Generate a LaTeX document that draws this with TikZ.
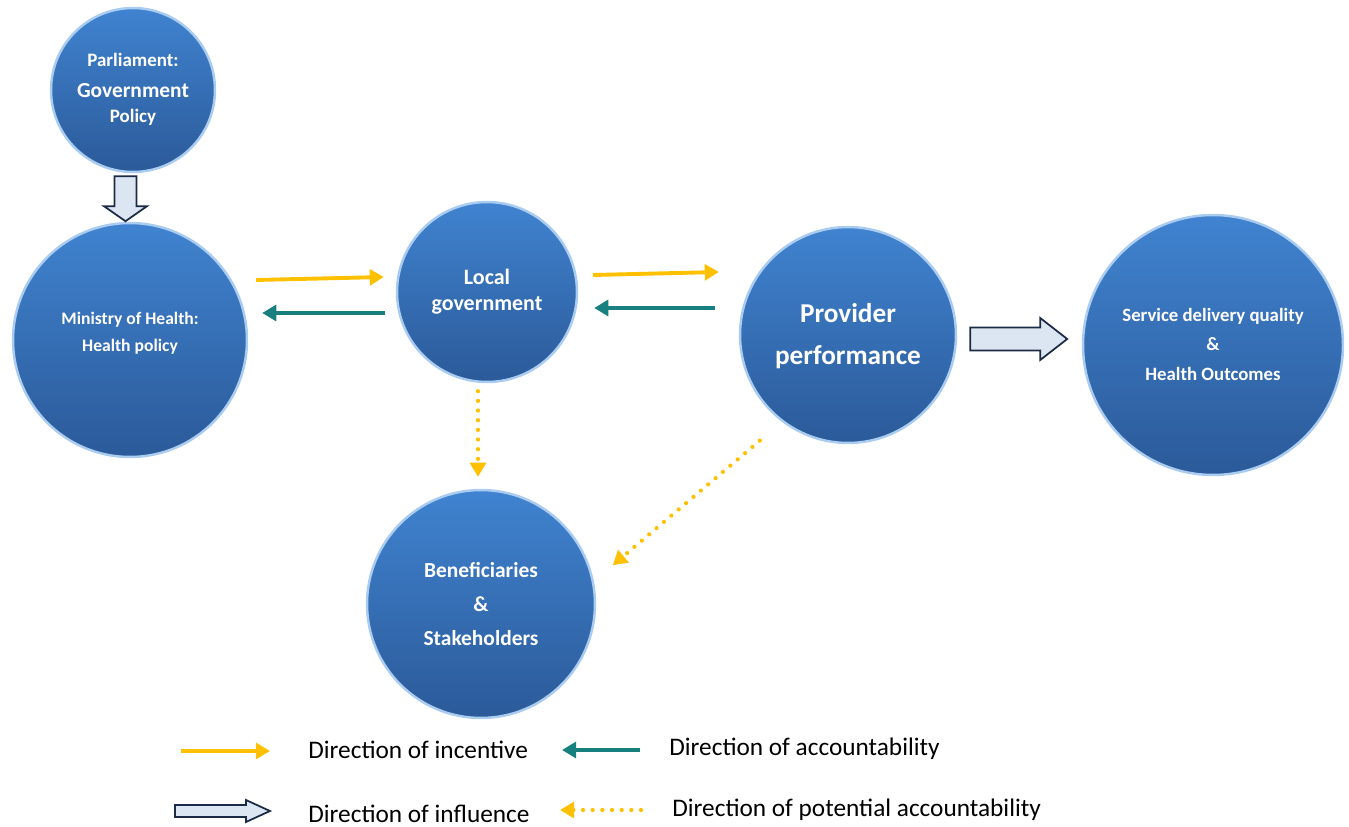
\documentclass[tikz,border=0pt]{standalone}
\usepackage{fontspec}
\setmainfont{Carlito}
\usetikzlibrary{arrows.meta,calc}
\definecolor{ballTop}{HTML}{4083D0}
\definecolor{ballBot}{HTML}{2B5A99}
\definecolor{ballRim}{HTML}{A9CCF0}
\definecolor{incYellow}{HTML}{FFC000}
\definecolor{accTeal}{HTML}{17807E}
\definecolor{inflFill}{HTML}{DCE6F2}
\definecolor{inflDraw}{HTML}{1C2B45}
\tikzset{
  ball/.style={circle, top color=ballTop, bottom color=ballBot, draw=ballRim,
    line width=1.4pt, text=white, align=center, inner sep=0pt},
  incentive/.style={incYellow, line width=2.2pt, -{Triangle[length=8pt,width=9pt]}},
  accountable/.style={accTeal, line width=2.2pt, -{Triangle[length=8pt,width=9pt]}},
  potential/.style={incYellow, line width=2.4pt, line cap=round,
    dash pattern=on 0pt off 5.5pt, -{Triangle[length=8pt,width=9pt]}},
  influence/.style={fill=inflFill, draw=inflDraw, line width=1pt},
  legendtext/.style={anchor=west, font=\fontsize{14.4}{16}\selectfont, inner sep=0pt},
  pics/blockarr/.style n args={4}{code={
    \draw[influence] (0,-#3) -- ({#1-#2},-#3) -- ({#1-#2},-#4) -- (#1,0)
      -- ({#1-#2},#4) -- ({#1-#2},#3) -- (0,#3) -- cycle;}}
}
\begin{document}
\begin{tikzpicture}[x=0.02cm,y=-0.02cm]
  \useasboundingbox (0,0) rectangle (1349,827);

  % the actors
  \node[ball, minimum size=3.28cm, font=\bfseries\fontsize{10.8}{12}\selectfont] (parl) at (133,90)
    {\raisebox{1pt}{\begin{tabular}{@{}c@{}}Parliament:\\[6pt]{\fontsize{12.2}{13}\selectfont Government}\\[2pt]Policy\end{tabular}}};
  \node[ball, minimum size=4.68cm, font=\bfseries\fontsize{10}{11}\selectfont] (moh) at (130,340)
    {\raisebox{17pt}{\begin{tabular}{@{}c@{}}Ministry of Health:\\[4pt]Health policy\end{tabular}}};
  \node[ball, minimum size=3.6cm, font=\bfseries\fontsize{12.5}{15}\selectfont] (local) at (487,292)
    {\raisebox{9.3pt}{\begin{tabular}{@{}c@{}}Local\\government\end{tabular}}};
  \node[ball, minimum size=4.32cm, font=\bfseries\fontsize{15.5}{24}\selectfont] (prov) at (848,335)
    {\raisebox{-5.5pt}{\begin{tabular}{@{}c@{}}Provider\\performance\end{tabular}}};
  \node[ball, minimum size=5.2cm, font=\bfseries\fontsize{10.7}{17}\selectfont] (serv) at (1213,345)
    {\raisebox{-3.7pt}{\begin{tabular}{@{}c@{}}Service delivery quality\\\&\\Health Outcomes\end{tabular}}};
  \node[ball, minimum size=4.56cm, font=\bfseries\fontsize{12.2}{19.5}\selectfont] (ben) at (481,604)
    {Beneficiaries\\\&\\Stakeholders};

  % influence
  \pic[rotate=-90] at ($(parl.south)+(-7.5,3)$) {blockarr={45}{15}{11}{21.5}};
  \pic at ($(prov.east)+(13,4)$) {blockarr={97}{27}{11.5}{21}};

  % incentive and accountability
  \draw[incentive] ([shift={(8,-60)}]moh.east) -- ([shift={(-12,-15)}]local.west);
  \draw[accountable] ([shift={(-11,21)}]local.west) -- ([shift={(14,-27)}]moh.east);
  \draw[incentive] ([shift={(15,-17)}]local.east) -- ([shift={(-20,-63)}]prov.west);
  \draw[accountable] ([shift={(-24,-27)}]prov.west) -- ([shift={(16,16)}]local.east);
  \draw[potential] ([shift={(-9,8)}]local.south) -- ([shift={(-3,-12)}]ben.north);
  \draw[potential] ([shift={(-18,22)}]prov.230) -- ([shift={(21,-7)}]ben.16);

  % legend
  \node[legendtext] (lg1) at (308,750) {Direction of incentive};
  \node[legendtext] (lg2) at (669,749) {Direction of accountability};
  \node[legendtext] (lg3) at (308,814) {Direction of influence};
  \node[legendtext] (lg4) at (672,810) {Direction of potential accountability};
  \draw[incentive] ([shift={(-127,1)}]lg1.west) -- ([shift={(-38,1)}]lg1.west);
  \draw[accountable] ([shift={(-29,1)}]lg2.west) -- ([shift={(-107,1)}]lg2.west);
  \pic at ($(lg3.west)+(-133,-3)$) {blockarr={95}{24}{6}{11}};
  \draw[potential] ([shift={(-31,0)}]lg4.west) -- ([shift={(-112,0)}]lg4.west);
\end{tikzpicture}
\end{document}
